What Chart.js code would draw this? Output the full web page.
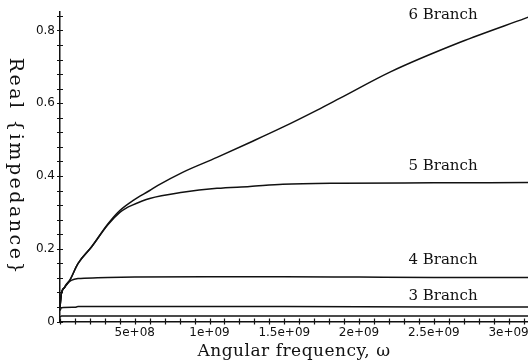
<!DOCTYPE html>
<html>
<head>
<meta charset="utf-8">
<script src="https://cdn.jsdelivr.net/npm/chart.js@4/dist/chart.umd.min.js"></script>
<style>
    html, body { margin: 0; padding: 0; background: #fff; }
    #wrap { width: 528px; height: 364px; position: relative; }
</style>
</head>
<body>
<div id="wrap"><canvas id="impedanceCanvas"></canvas></div>
<script>
/* Angular frequency samples (rad/s) and real impedance per branch count */
var omega6 = [0, 0.009e9, 0.031e9, 0.065e9, 0.12e9, 0.209e9, 0.32e9, 0.40e9, 0.49e9, 0.60e9, 0.655e9, 0.82e9, 1.05e9, 1.27e9, 1.49e9, 1.72e9, 1.87e9, 2.21e9, 2.68e9, 3.11e9, 3.13e9];
var real6  = [0.04, 0.076, 0.094, 0.113, 0.159, 0.204, 0.268, 0.305, 0.333, 0.36, 0.374, 0.41, 0.451, 0.492, 0.534, 0.581, 0.613, 0.686, 0.768, 0.833, 0.836];

var omega5 = [0, 0.009e9, 0.031e9, 0.065e9, 0.12e9, 0.209e9, 0.32e9, 0.40e9, 0.44e9, 0.48e9, 0.60e9, 0.82e9, 1.05e9, 1.27e9, 1.49e9, 1.87e9, 2.5e9, 3.13e9];
var real5  = [0.04, 0.076, 0.094, 0.113, 0.159, 0.204, 0.266, 0.300, 0.311, 0.319, 0.338, 0.355, 0.366, 0.371, 0.377, 0.380, 0.381, 0.382];

var omega4 = [0, 0.009e9, 0.031e9, 0.045e9, 0.075e9, 0.12e9, 0.25e9, 0.5e9, 1.0e9, 1.5e9, 2.0e9, 2.5e9, 3.13e9];
var real4  = [0.04, 0.076, 0.094, 0.104, 0.113, 0.118, 0.120, 0.122, 0.123, 0.123, 0.122, 0.121, 0.121];

var omega3 = [0, 0.01e9, 0.1e9, 0.12e9, 0.5e9, 1.5e9, 2.5e9, 3.13e9];
var real3  = [0.03, 0.038, 0.039, 0.041, 0.041, 0.041, 0.040, 0.040];

var omega2 = [0, 0.01e9, 1.0e9, 2.0e9, 3.13e9];
var real2  = [0.012, 0.015, 0.015, 0.015, 0.015];

/* Curve captions, placed in data units */
var branchNames = ['6 Branch', '5 Branch', '4 Branch', '3 Branch'];
var branchLabelOmega = [2.33e9, 2.33e9, 2.33e9, 2.33e9];
var branchLabelReal = [0.843, 0.426, 0.169, 0.069];

/* Axis ranges and tick steps */
var xMax = 3.13e9, xMinorStep = 1e8, xMajorStep = 5e8;
var yMax = 0.85, yMinorStep = 0.04, yMajorStep = 0.2;

var xTitle = 'Angular frequency, \u03c9';
var yTitle = 'Real {impedance}';

var INK = '#111';

/* Zip two arrays into {x, y} points */
function toPoints(xs, ys) {
    var pts = [];
    for (var i = 0; i < xs.length; i++) {
        pts.push({ x: xs[i], y: ys[i] });
    }
    return pts;
}

function isMultiple(v, step) {
    var r = v / step;
    return Math.abs(r - Math.round(r)) < 1e-6;
}

/* Evenly stepped tick list from 0 up to max */
function stepTicks(max, step) {
    var out = [];
    for (var k = 0; k * step <= max + step * 1e-6; k++) {
        out.push({ value: Math.round(k * step / step * 1e6) / 1e6 * step });
    }
    return out;
}

/* 5e+08 style labels */
function sciLabel(v) {
    var exp = Math.floor(Math.log10(v) + 1e-9);
    var mant = Math.round(v / Math.pow(10, exp) * 100) / 100;
    return mant + 'e+' + (exp < 10 ? '0' : '') + exp;
}

function curve(xs, ys) {
    return {
        data: toPoints(xs, ys),
        borderColor: INK,
        borderWidth: 1.5,
        pointRadius: 0,
        fill: false,
        cubicInterpolationMode: 'monotone'
    };
}

/* Crossing tick marks, axis titles and branch captions */
var decorPlugin = {
    id: 'decor',
    afterDraw: function(chart) {
        var ctx = chart.ctx;
        var xs = chart.scales.x;
        var ys = chart.scales.y;
        var area = chart.chartArea;

        ctx.save();
        ctx.strokeStyle = INK;
        ctx.lineWidth = 1.2;
        ctx.beginPath();
        ys.ticks.forEach(function(t) {
            var py = Math.round(ys.getPixelForValue(t.value)) + 0.5;
            ctx.moveTo(area.left - 3, py);
            ctx.lineTo(area.left + 3, py);
        });
        xs.ticks.forEach(function(t) {
            var px = Math.round(xs.getPixelForValue(t.value)) + 0.5;
            ctx.moveTo(px, area.bottom - 3);
            ctx.lineTo(px, area.bottom + 3);
        });
        ctx.stroke();

        ctx.fillStyle = INK;
        ctx.font = '15px "DejaVu Serif"';
        ctx.textBaseline = 'middle';
        ctx.textAlign = 'left';
        for (var i = 0; i < branchNames.length; i++) {
            ctx.fillText(branchNames[i],
                xs.getPixelForValue(branchLabelOmega[i]),
                ys.getPixelForValue(branchLabelReal[i]));
        }

        ctx.textAlign = 'center';
        ctx.font = '17px "DejaVu Serif"';
        ctx.letterSpacing = '0.5px';
        ctx.fillText(xTitle, (area.left + area.right) / 2, 352);

        ctx.font = '19px "DejaVu Serif"';
        ctx.letterSpacing = '2.5px';
        ctx.translate(15, (area.top + area.bottom) / 2);
        ctx.rotate(Math.PI / 2);
        ctx.fillText(yTitle, 0, 0);
        ctx.restore();
    }
};

function drawChart() {
    var ctx = document.getElementById('impedanceCanvas').getContext('2d');
    var chart = new Chart(ctx, {
        type: 'line',
        data: {
            datasets: [
                curve(omega6, real6),
                curve(omega5, real5),
                curve(omega4, real4),
                curve(omega3, real3),
                curve(omega2, real2)
            ]
        },
        options: {
            responsive: true,
            maintainAspectRatio: false,
            animation: false,
            layout: { padding: { top: 12, left: 0, right: 0, bottom: 0 } },
            plugins: {
                legend: { display: false },
                tooltip: { enabled: false }
            },
            scales: {
                x: {
                    type: 'linear',
                    min: 0,
                    max: xMax,
                    afterBuildTicks: function(s) { s.ticks = stepTicks(xMax, xMinorStep); },
                    afterFit: function(s) { s.height = 42.5; },
                    grid: { display: false, drawTicks: false },
                    border: { display: true, color: INK, width: 1.5 },
                    ticks: {
                        autoSkip: false,
                        maxRotation: 0,
                        padding: 4,
                        color: INK,
                        font: { family: '"DejaVu Sans"', size: 12 },
                        callback: function(v) {
                            return (v > 0 && isMultiple(v, xMajorStep)) ? sciLabel(v) : '';
                        }
                    }
                },
                y: {
                    min: 0,
                    max: yMax,
                    afterBuildTicks: function(s) { s.ticks = stepTicks(yMax, yMinorStep); },
                    afterFit: function(s) { s.width = 60; },
                    grid: { display: false, drawTicks: false },
                    border: { display: true, color: INK, width: 1.5 },
                    ticks: {
                        autoSkip: false,
                        padding: 5,
                        color: INK,
                        font: { family: '"DejaVu Sans"', size: 12 },
                        callback: function(v) {
                            if (!isMultiple(v, yMajorStep)) return '';
                            return v === 0 ? '0' : v.toFixed(1);
                        }
                    }
                }
            }
        },
        plugins: [decorPlugin]
    });
}

drawChart();
</script>
</body>
</html>
